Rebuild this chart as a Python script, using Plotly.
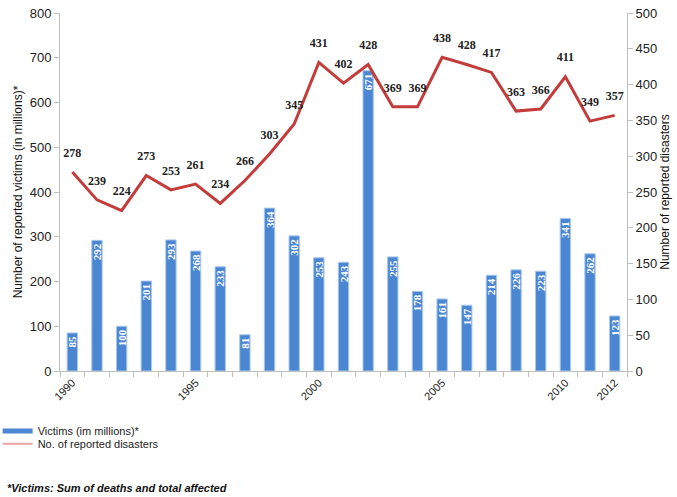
import plotly.graph_objects as go

years = list(range(1990, 2013))
victims = [85, 292, 100, 201, 293, 268, 233, 81, 364, 302, 253, 243, 671,
           255, 178, 161, 147, 214, 226, 223, 341, 262, 123]
disasters = [278, 239, 224, 273, 253, 261, 234, 266, 303, 345, 431, 402, 428,
             369, 369, 438, 428, 417, 363, 366, 411, 349, 357]
tick_years = [1990, 1995, 2000, 2005, 2010, 2012]

fig = go.Figure()
fig.add_trace(go.Bar(
    x=years, y=victims, name="Victims (im millions)*",
    marker=dict(color="#4A86D2", line=dict(color="#A9C8EE", width=1)),
    width=0.42,
    text=[str(v) for v in victims], textposition="inside",
    insidetextanchor="end", textangle=-90,
    textfont=dict(family="Liberation Serif", size=11, color="white", weight="bold"),
    cliponaxis=False, showlegend=False,
))
fig.add_trace(go.Scatter(
    x=years, y=disasters, yaxis="y2", mode="lines+markers+text",
    line=dict(color="#C43C3A", width=3),
    marker=dict(size=18, color="rgba(0,0,0,0)"),
    text=[str(v) for v in disasters], textposition="top center",
    textfont=dict(family="Liberation Serif", size=12, color="#222222", weight="bold"),
    showlegend=False, cliponaxis=False,
))
# legend entries (styled as in the reference legend)
fig.add_trace(go.Scatter(
    x=[None], y=[None], mode="lines",
    line=dict(color="#4A86D2", width=5),
    name="Victims (im millions)*", legend="legend",
))
fig.add_trace(go.Scatter(
    x=[None], y=[None], yaxis="y2", mode="lines",
    line=dict(color="#E8A3A3", width=2),
    name="No. of reported disasters", legend="legend2",
))

axis_font = dict(family="Liberation Sans, Arial", size=13, color="#222222")
leg_font = dict(family="Liberation Sans, Arial", size=11, color="#222222")
fig.update_layout(
    width=677, height=497,
    margin=dict(l=60, r=50, t=13, b=126, autoexpand=False),
    plot_bgcolor="white", paper_bgcolor="white",
    uniformtext=dict(minsize=10, mode="show"),
    hovermode=False,
    xaxis=dict(
        range=[1989.5, 2012.5], tickmode="array", tickvals=tick_years,
        ticktext=[str(y) for y in tick_years], tickangle=-45,
        ticks="", showline=True, linecolor="#BFBFBF", linewidth=1,
        showgrid=False, zeroline=False, automargin=False,
        tickfont=dict(family="Liberation Sans, Arial", size=11, color="#222222"),
        minor=dict(tick0=1989.5, dtick=1, ticks="outside", ticklen=5,
                   tickcolor="#BFBFBF", showgrid=False),
    ),
    yaxis=dict(
        range=[0, 800], dtick=100, showgrid=False, zeroline=False,
        showline=True, linecolor="#BFBFBF", ticks="outside", ticklen=5,
        tickcolor="#BFBFBF", tickfont=axis_font, automargin=False,
        title=dict(text="Number of reported victims (in millions)*",
                   font=dict(family="Liberation Sans, Arial", size=12, color="#111111"),
                   standoff=4),
    ),
    yaxis2=dict(
        range=[0, 500], dtick=50, overlaying="y", side="right",
        showgrid=False, zeroline=False, showline=True, linecolor="#BFBFBF",
        ticks="outside", ticklen=5, tickcolor="#BFBFBF", tickfont=axis_font,
        automargin=False,
        title=dict(text="Number of reported disasters",
                   font=dict(family="Liberation Sans, Arial", size=12, color="#111111"),
                   standoff=4),
    ),
    legend=dict(x=-0.11, y=-0.127, xanchor="left", yanchor="top",
                font=leg_font, bgcolor="rgba(0,0,0,0)"),
    legend2=dict(x=-0.11, y=-0.163, xanchor="left", yanchor="top",
                 font=leg_font, bgcolor="rgba(0,0,0,0)"),
    annotations=[dict(
        text="<b><i>*Victims: Sum of deaths and total affected</i></b>",
        xref="paper", yref="paper", x=-0.097, y=-0.328, xanchor="left",
        yanchor="middle", showarrow=False,
        font=dict(family="Liberation Sans, Arial", size=11, color="#111111"),
    )],
)
fig.write_html("out.html", config={"displayModeBar": False},
               post_script="document.body.style.margin='0px';document.body.style.padding='0px';")
